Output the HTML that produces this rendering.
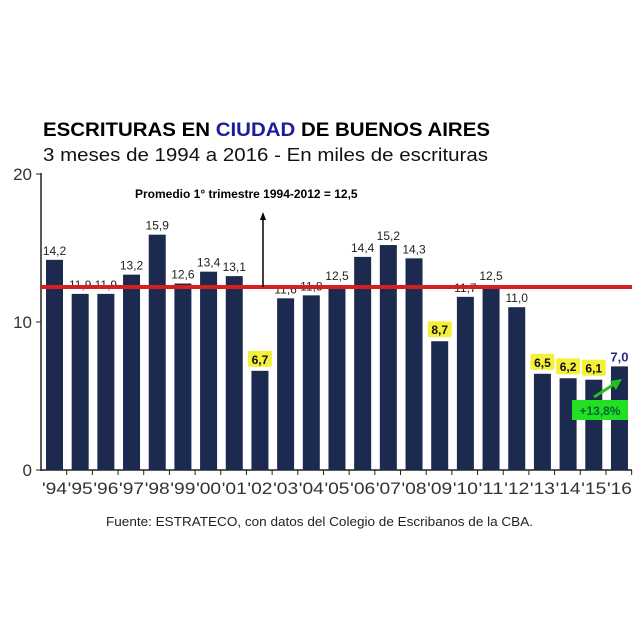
<!DOCTYPE html>
<html><head><meta charset="utf-8"><style>
body{margin:0;background:#fff;}
svg{display:block;font-family:"Liberation Sans",Arial,sans-serif;}
</style></head><body>
<svg width="640" height="640" viewBox="0 0 640 640">
<rect width="640" height="640" fill="#fff"/>
<text x="43" y="136" font-size="19" font-weight="bold" fill="#000" textLength="447" lengthAdjust="spacingAndGlyphs">ESCRITURAS EN <tspan fill="#1c1c9c">CIUDAD</tspan> DE BUENOS AIRES</text>
<text x="43" y="161" font-size="18" fill="#111" textLength="445" lengthAdjust="spacingAndGlyphs">3 meses de 1994 a 2016 - En miles de escrituras</text>
<g font-size="17" fill="#333" text-anchor="end">
<text x="32" y="180">20</text><text x="32" y="328">10</text><text x="32" y="476">0</text>
</g>
<line x1="41" y1="173" x2="41" y2="471" stroke="#222" stroke-width="1.5"/>
<line x1="36" y1="174" x2="41" y2="174" stroke="#222"/>
<line x1="36" y1="322" x2="41" y2="322" stroke="#222"/>
<line x1="36" y1="470" x2="41" y2="470" stroke="#222"/>
<line x1="41" y1="470" x2="632" y2="470" stroke="#222" stroke-width="1.5"/>
<g id="bars"></g>
<line x1="41" y1="287" x2="632" y2="287" stroke="#d62020" stroke-width="4"/>
<line x1="263" y1="287" x2="263" y2="218" stroke="#000" stroke-width="1.5"/>
<polygon points="263,212 260,220 266,220" fill="#000"/>
<text x="135" y="198" font-size="12" font-weight="bold" fill="#000">Promedio 1° trimestre 1994-2012 = 12,5</text>
<rect x="572" y="400" width="56" height="20" fill="#22e022"/>
<text x="600" y="415" font-size="12" font-weight="bold" fill="#063" text-anchor="middle">+13,8%</text>
<line x1="594" y1="397" x2="616" y2="383" stroke="#22c022" stroke-width="3"/>
<polygon points="622,379 610,381 616,390" fill="#22c022"/>
<text x="106" y="526" font-size="13" fill="#222" textLength="427" lengthAdjust="spacingAndGlyphs">Fuente: ESTRATECO, con datos del Colegio de Escribanos de la CBA.</text>
</svg>
<script>
var v=[14.2,11.9,11.9,13.2,15.9,12.6,13.4,13.1,6.7,11.6,11.8,12.5,14.4,15.2,14.3,8.7,11.7,12.5,11.0,6.5,6.2,6.1,7.0];
var yr=['94','95','96','97','98','99','00','01','02','03','04','05','06','07','08','09','10','11','12','13','14','15','16'];
var yel={8:1,15:1,19:1,20:1,21:1};
var s='';
for(var i=0;i<v.length;i++){
 var c=54.5+i*25.68,t=470-v[i]*14.8,lab=v[i].toFixed(1).replace('.',',');
 s+='<rect x="'+(c-8.5)+'" y="'+t+'" width="17" height="'+(470-t)+'" fill="#1b2a4e"/>';
 var tx=41+(i+1)*25.68;
 s+='<line x1="'+tx+'" y1="470" x2="'+tx+'" y2="475" stroke="#222"/>';
 s+='<text x="'+c+'" y="494" font-size="17" fill="#333" text-anchor="middle" textLength="25" lengthAdjust="spacingAndGlyphs">\''+yr[i]+'</text>';
 if(yel[i]){s+='<rect x="'+(c-12)+'" y="'+(t-20)+'" width="24" height="16" fill="#f5f03a" rx="2"/>';
  s+='<text x="'+c+'" y="'+(t-7)+'" font-size="12" font-weight="bold" fill="#111" text-anchor="middle">'+lab+'</text>';}
 else if(i==22){s+='<text x="'+c+'" y="'+(t-5)+'" font-size="13" font-weight="bold" fill="#2a2a80" text-anchor="middle">'+lab+'</text>';}
 else s+='<text x="'+c+'" y="'+(t-5)+'" font-size="12" fill="#222" text-anchor="middle">'+lab+'</text>';
}
document.getElementById('bars').innerHTML=s;
</script>
</body></html>
